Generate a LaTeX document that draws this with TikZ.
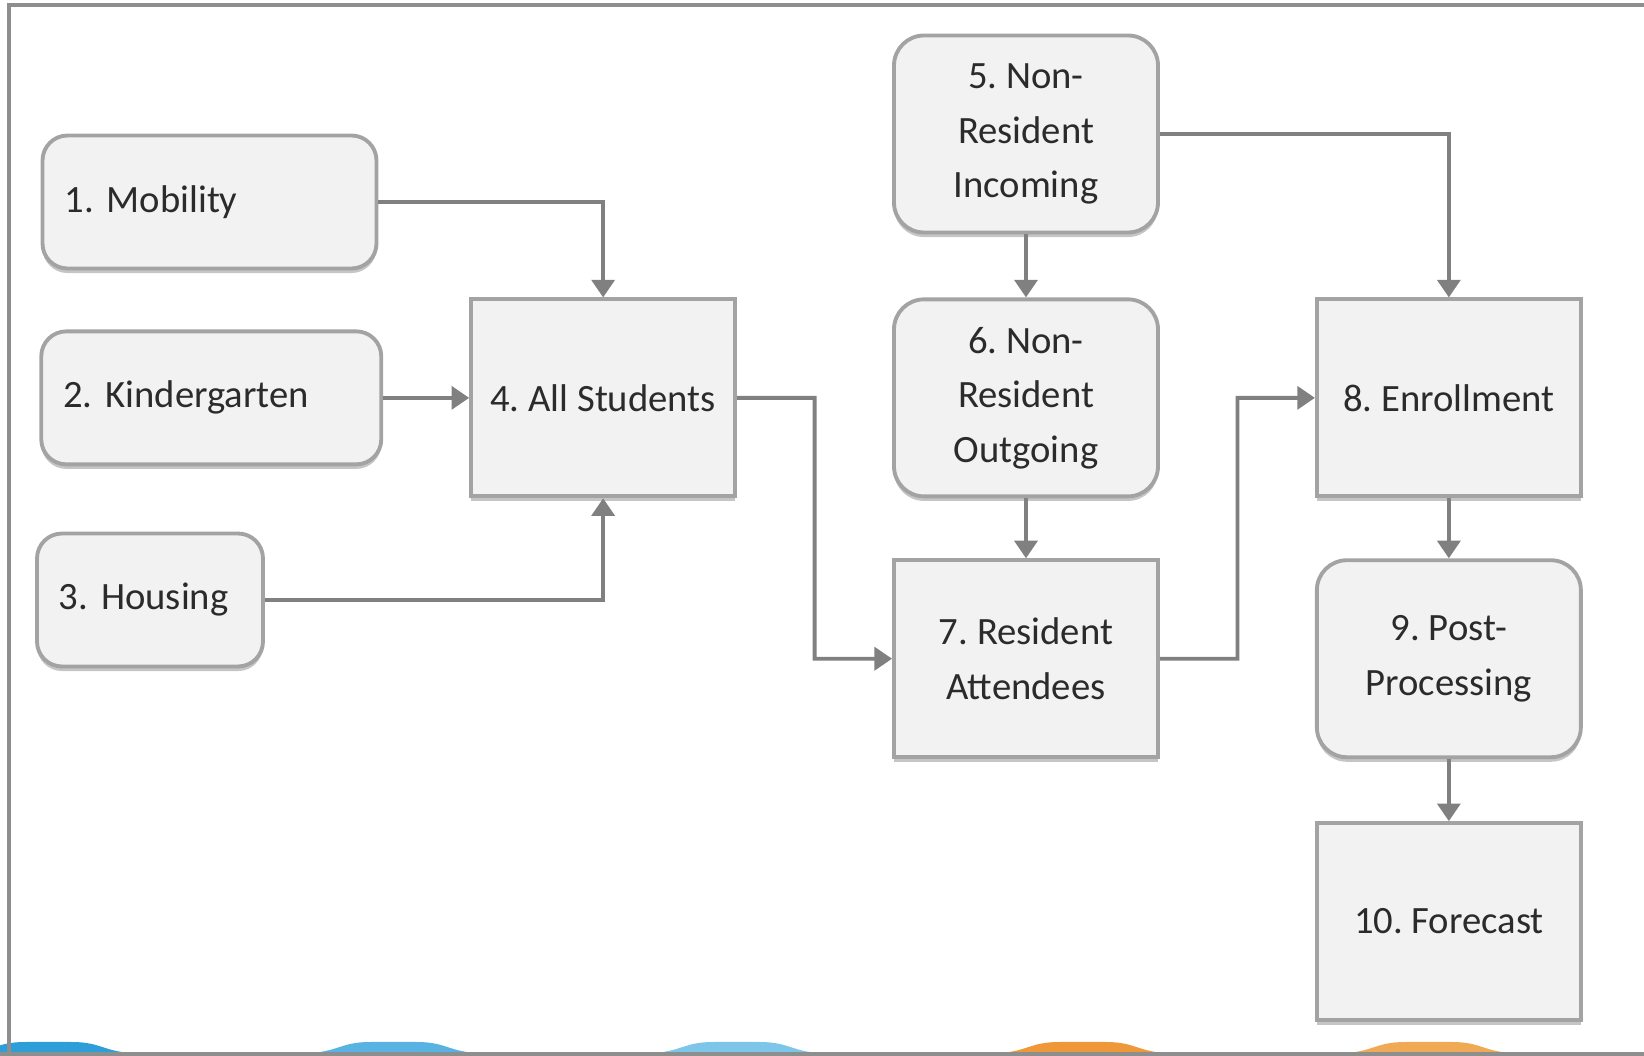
\documentclass[tikz,border=0pt]{standalone}
\usepackage{fontspec}
\setmainfont{Carlito}
\frenchspacing
\usetikzlibrary{positioning, calc, arrows.meta, shadows}

\definecolor{boxfill}{HTML}{F2F2F2}
\definecolor{boxline}{HTML}{A3A3A3}
\definecolor{flowgray}{HTML}{808080}
\definecolor{framegray}{HTML}{8E8E8E}
\definecolor{textgray}{HTML}{2B2B2B}
\definecolor{wavea}{HTML}{2E9ED8}
\definecolor{waveb}{HTML}{58B2E2}
\definecolor{wavec}{HTML}{7EC5EA}
\definecolor{waved}{HTML}{EE983A}
\definecolor{wavee}{HTML}{F0AA55}

\begin{document}
\begin{tikzpicture}[node font=\fontsize{11pt}{15.5pt}\selectfont, every node/.style={text=textgray},
    stagebox/.style={draw=boxline, fill=boxfill, line width=1.1pt, align=center,
        drop shadow={shadow xshift=0pt, shadow yshift=-1.3pt, fill=black!45, opacity=0.5}},
    bigbox/.style={stagebox, minimum width=2.64cm, minimum height=1.97cm, inner sep=0pt},
    roundbox/.style={bigbox, rounded corners=0.3cm},
    leadbox/.style={stagebox, rounded corners=0.25cm, align=left, inner xsep=0.22cm, minimum height=1.33cm},
    flow/.style={draw=flowgray, line width=1.1pt, -{Triangle[length=5pt, width=6.5pt]}}]
    \useasboundingbox (0,0) rectangle (16.44,10.56);
    \foreach \a/\c in {-0.54/wavea, 2.91/waveb, 6.34/wavec, 9.80/waved, 13.26/wavee}
        \fill[\c] (\a,0.02) .. controls (\a+0.5,0.02) and (\a+0.45,0.14) .. (\a+0.8,0.14)
            -- (\a+1.25,0.14) .. controls (\a+1.6,0.14) and (\a+1.55,0.02) .. (\a+2.05,0.02) -- cycle;
    \draw[framegray, line width=1.4pt] (0,0.02) -- (16.44,0.02);
    \draw[framegray, line width=1.2pt] (0.09,0.02) -- (0.09,10.51) -- (16.44,10.51);

    \node[roundbox] (inc) at (10.26,9.22) {5. Non-\\Resident\\Incoming};
    \node[roundbox, below=0.63cm of inc] (out) {6. Non-\\Resident\\Outgoing};
    \node[bigbox, below=0.6cm of out] (att) {7. Resident\\Attendees};
    \node[bigbox, left=1.55cm of out] (all) {4. All Students};
    \node[bigbox, right=1.55cm of out] (enr) {8. Enrollment};
    \node[roundbox, below=0.6cm of enr] (post) {9. Post-\\Processing};
    \node[bigbox, below=0.62cm of post] (fore) {10. Forecast};
    \node[leadbox, text width=2.9cm] (mob) at (2.095,8.54) {1. Mobility};
    \node[leadbox, text width=2.96cm, left=0.86cm of all] (kind) {2. Kindergarten};
    \node[leadbox, text width=1.82cm] (house) at (1.50,4.56) {3. Housing};

    \coordinate (midA) at ($(all.east)!0.5!(out.west)$);
    \coordinate (midB) at ($(out.east)!0.5!(enr.west)$);

    \draw[flow] (mob) -| (all);
    \draw[flow] (kind) -- (all);
    \draw[flow] (house) -| (all);
    \draw[flow] (all.east) -- (midA) |- (att.west);
    \draw[flow] (inc) -- (out);
    \draw[flow] (out) -- (att);
    \draw[flow] (inc) -| (enr);
    \draw[flow] (att.east) -| (midB) -- (enr.west);
    \draw[flow] (enr) -- (post);
    \draw[flow] (post) -- (fore);
\end{tikzpicture}
\end{document}
